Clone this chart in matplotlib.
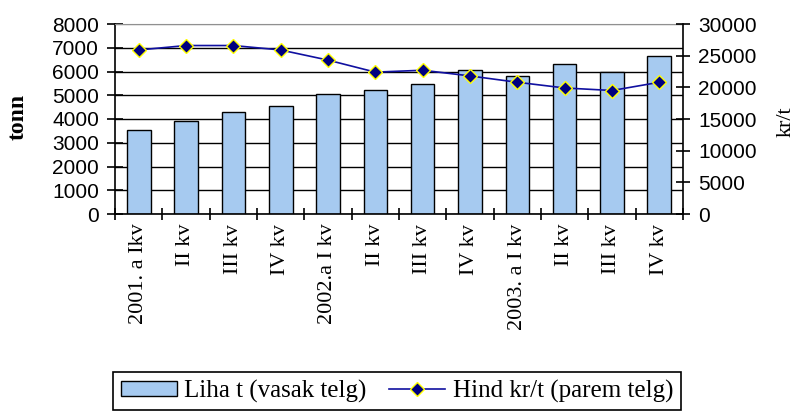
import matplotlib
matplotlib.use("Agg")
import matplotlib.pyplot as plt
from matplotlib.font_manager import FontProperties
import numpy as np

categories = ["2001. a Ikv", "II kv", "III kv", "IV kv",
              "2002.a I kv", "II kv", "III kv", "IV kv",
              "2003. a I kv", "II kv", "III kv", "IV kv"]
liha_t = [3550, 3930, 4290, 4560, 5050, 5230, 5470, 6060, 5810, 6330, 5970, 6650]
hind_kr_t = [25900, 26600, 26600, 25900, 24300, 22400, 22700, 21800, 20800, 19900, 19500, 20800]
left_ticks = [0, 1000, 2000, 3000, 4000, 5000, 6000, 7000, 8000]
right_ticks = [0, 5000, 10000, 15000, 20000, 25000, 30000]

W, H = 797, 412
fig = plt.figure(figsize=(W / 100, H / 100), dpi=100)
ax = fig.add_axes([115 / W, 1 - 214 / H, (683 - 115) / W, (214 - 24) / H])

x = np.arange(len(categories))
ax.bar(x, liha_t, width=0.5, color="#A6CAF0", edgecolor="black", linewidth=1,
       label="Liha t (vasak telg)", zorder=2)
ax.set_xlim(-0.5, len(categories) - 0.5)
ax.set_ylim(0, 8000)
ax.set_yticks(left_ticks)
ax.set_axisbelow(True)
ax.yaxis.grid(True, color="black", linewidth=1)
ax.get_ygridlines()[-1].set_color("#909090")

sans = "Liberation Sans"
serif = "Liberation Serif"

ax.set_xticks(x)
ax.set_xticklabels(categories, rotation=90, fontsize=16, family=serif,
                   ha="center", va="top")
ax.tick_params(axis="x", which="major", length=0, pad=7)
ax.set_xticks(np.arange(len(categories) + 1) - 0.5, minor=True)
ax.tick_params(axis="x", which="minor", direction="inout", length=9, width=1.2)
ax.tick_params(axis="y", direction="inout", length=11, width=1.2, pad=6,
               labelsize=15)
for t in ax.get_yticklabels():
    t.set_family(sans)

for s in ["left", "bottom"]:
    ax.spines[s].set_linewidth(1.2)
ax.spines["top"].set_color("#909090")
ax.spines["right"].set_visible(False)

ax2 = ax.twinx()
ax2.plot(x, hind_kr_t, color="#1010A0", linewidth=1.2, marker="D",
         markersize=7.5, markerfacecolor="#000080", markeredgecolor="#FFFF00",
         markeredgewidth=1, label="Hind kr/t (parem telg)", zorder=3)
ax2.set_ylim(0, 30000)
ax2.set_yticks(right_ticks)
ax2.tick_params(axis="y", direction="inout", length=10, width=1.2, pad=6,
                labelsize=15)
for t in ax2.get_yticklabels():
    t.set_family(sans)
for s in ["left", "top", "bottom"]:
    ax2.spines[s].set_visible(False)
ax2.spines["right"].set_linewidth(1.2)

fig.text(18 / W, 1 - 117 / H, "tonn", rotation=90, fontsize=17,
         fontweight="bold", family=serif, ha="center", va="center")
fig.text(786 / W, 1 - 122 / H, "kr/t", rotation=90, fontsize=16,
         family=serif, ha="center", va="center")

h1, l1 = ax.get_legend_handles_labels()
h2, l2 = ax2.get_legend_handles_labels()
leg = fig.legend(h1 + h2, l1 + l2, loc="upper left",
                 bbox_to_anchor=(113 / W, 1 - 372 / H), ncol=2,
                 prop=FontProperties(family=serif, size=18), frameon=True,
                 fancybox=False, edgecolor="black", framealpha=1,
                 handlelength=2.25, handleheight=0.55, handletextpad=0.3,
                 columnspacing=0.9, borderpad=0.3, borderaxespad=0)
leg.get_frame().set_linewidth(1.2)

fig.savefig("out.png", dpi=100)
